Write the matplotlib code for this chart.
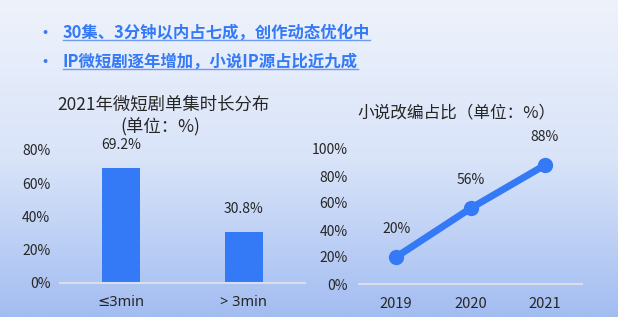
import numpy as np
import matplotlib.pyplot as plt
from matplotlib.colors import LinearSegmentedColormap

plt.rcParams['font.family'] = ['Noto Sans CJK SC', 'DejaVu Sans']

# data
bullets = ['30集、3分钟以内占七成，创作动态优化中', 'IP微短剧逐年增加，小说IP源占比近九成']
dur_cats = ['≤3min', '> 3min']
dur_vals = [69.2, 30.8]
years = ['2019', '2020', '2021']
novel_share = [20, 56, 88]

blue = '#3479f6'
text_dark = '#262626'

fig = plt.figure(figsize=(6.18, 3.17), dpi=100)

# background gradient
bg = fig.add_axes([0, 0, 1, 1], zorder=-10)
grad = np.linspace(0, 1, 256).reshape(-1, 1)
cmap = LinearSegmentedColormap.from_list('bg', ['#eef2fb', '#d9e4f9', '#a3bdf1'])
bg.imshow(grad, aspect='auto', cmap=cmap, extent=[0, 1, 0, 1], origin='upper')
bg.set_xlim(0, 1)
bg.set_ylim(0, 1)
bg.axis('off')

# bullet lines
for i, txt in enumerate(bullets):
    y = 1 - (33 + 29 * i) / 317
    fig.text(45 / 618, y, '•', color=blue, fontsize=11, fontweight='bold', ha='center', va='center')
    t = fig.text(63 / 618, y, txt, color=blue, fontsize=11.8, fontweight='bold', ha='left', va='center')
    fig.canvas.draw()
    bb = t.get_window_extent()
    uy = 1 - (40 + 29 * i) / 317
    fig.add_artist(plt.Line2D([63 / 618, bb.x1 / 618], [uy, uy], color='#6f9cf0', lw=1))

# left: bar chart
ax1 = fig.add_axes([60 / 618, 1 - 283 / 317, 245 / 618, 133 / 317])
x1 = np.arange(len(dur_cats))
ax1.bar(x1, dur_vals, width=0.31, color=blue)
for xi, v in zip(x1, dur_vals):
    ax1.annotate(f'{v}%', (xi, v), xytext=(0, 16.5), textcoords='offset points',
                 ha='center', va='center', fontsize=10, color=text_dark)
ax1.set_xlim(-0.5, 1.5)
ax1.set_ylim(0, 80)
ax1.set_yticks([0, 20, 40, 60, 80])
ax1.set_yticklabels([f'{v}%' for v in [0, 20, 40, 60, 80]])
ax1.set_xticks(x1)
ax1.set_xticklabels(dur_cats, family=['Noto Sans', 'DejaVu Sans'])
ax1.tick_params(axis='y', length=0, pad=7, labelsize=10, labelcolor=text_dark)
ax1.tick_params(axis='x', length=0, pad=9, labelsize=10.5, labelcolor=text_dark)
ax1.set_facecolor('none')
for s in ['top', 'right', 'left']:
    ax1.spines[s].set_visible(False)
ax1.spines['bottom'].set_color('#d9dee8')
ax1.spines['bottom'].set_linewidth(1.5)
fig.text(163 / 618, 1 - 105 / 317, '2021年微短剧单集时长分布', ha='center', va='center',
         fontsize=12.5, color=text_dark)
fig.text(160 / 618, 1 - 127 / 317, '(单位：%)', ha='center', va='center',
         fontsize=12.5, color=text_dark)

# right: line chart
ax2 = fig.add_axes([359 / 618, 1 - 284 / 317, 223 / 618, 135 / 317])
x2 = np.arange(len(years))
ax2.plot(x2, novel_share, color=blue, lw=5, marker='o', markersize=10, clip_on=False)
for xi, v in zip(x2, novel_share):
    ax2.annotate(f'{v}%', (xi, v), xytext=(0, 20.5), textcoords='offset points',
                 ha='center', va='center', fontsize=10, color=text_dark)
ax2.set_xlim(-0.5, 2.5)
ax2.set_ylim(0, 100)
ax2.set_yticks([0, 20, 40, 60, 80, 100])
ax2.set_yticklabels([f'{v}%' for v in [0, 20, 40, 60, 80, 100]])
ax2.set_xticks(x2)
ax2.set_xticklabels(years)
ax2.tick_params(axis='y', length=0, pad=8, labelsize=10, labelcolor=text_dark)
ax2.tick_params(axis='x', length=0, pad=9, labelsize=10.5, labelcolor=text_dark)
ax2.set_facecolor('none')
for s in ['top', 'right', 'left']:
    ax2.spines[s].set_visible(False)
ax2.spines['bottom'].set_color('#d9dee8')
ax2.spines['bottom'].set_linewidth(1.5)
fig.text(457 / 618, 1 - 113 / 317, '小说改编占比（单位：%）', ha='center', va='center',
         fontsize=12, color=text_dark)

fig.savefig('out.png', dpi=100)
